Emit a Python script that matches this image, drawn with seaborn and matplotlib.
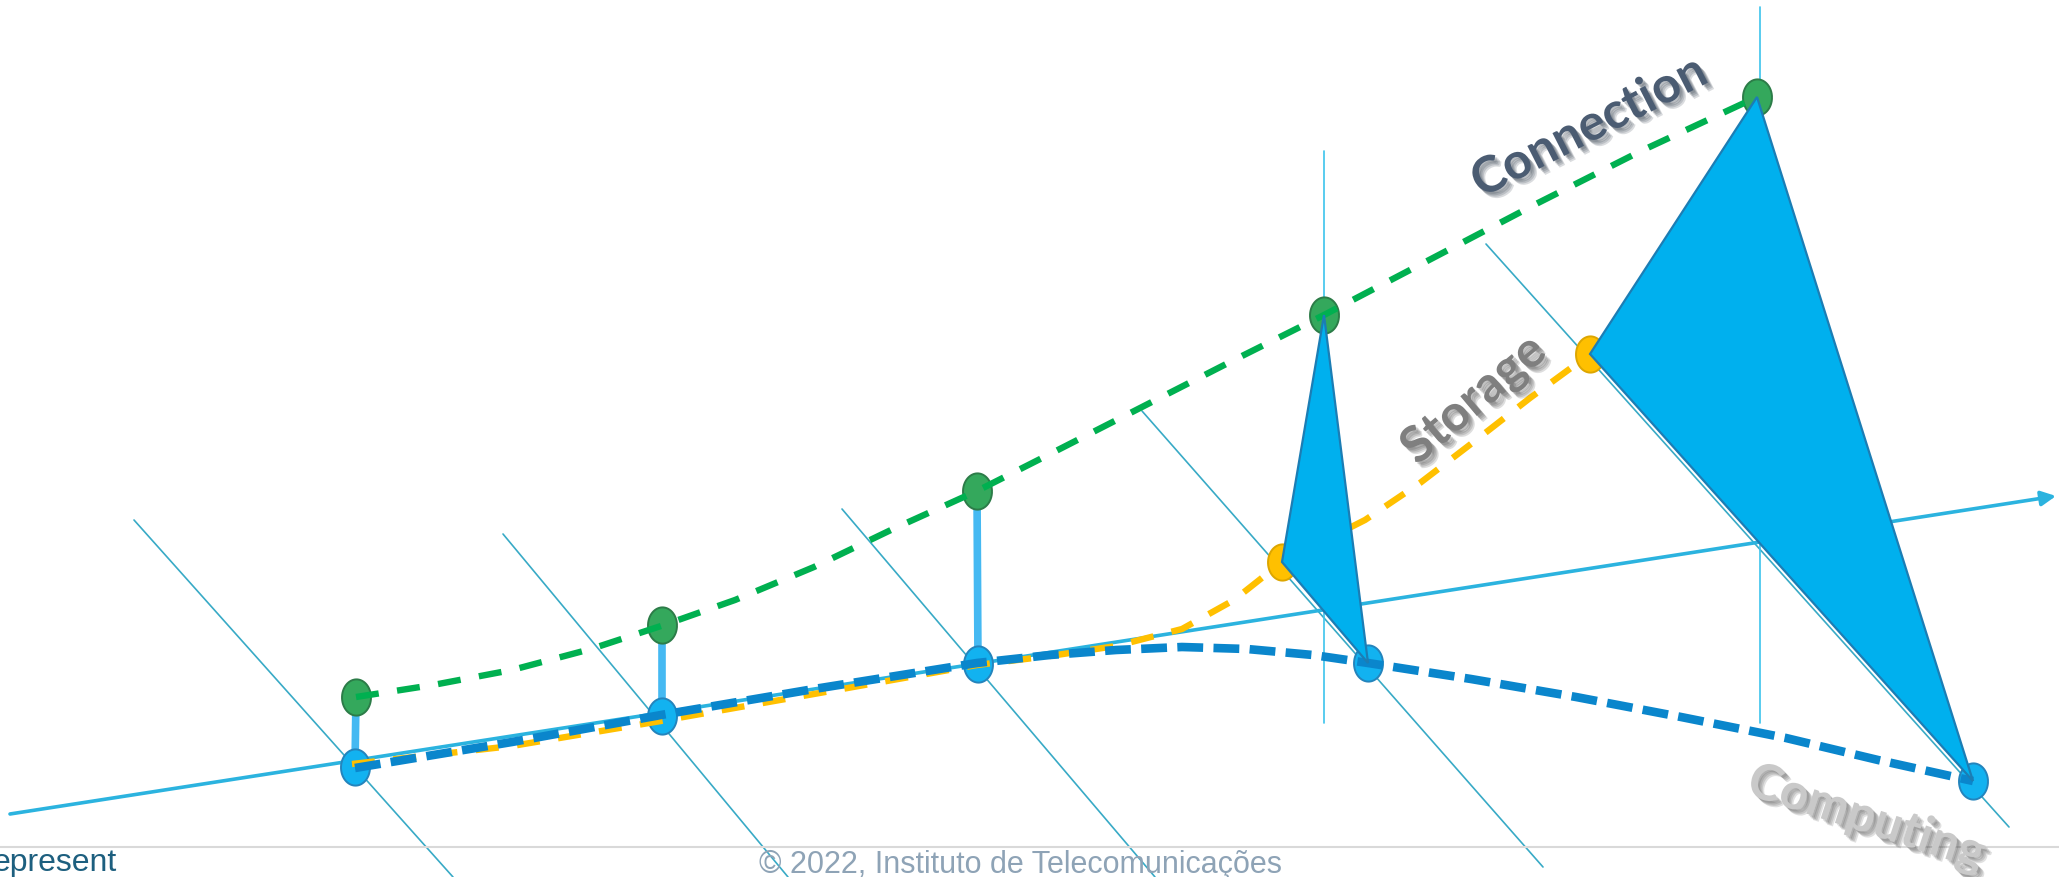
import numpy as np
import matplotlib
matplotlib.use("Agg")
import matplotlib.pyplot as plt
import matplotlib.patheffects as pe
from matplotlib.patches import Polygon
from matplotlib.path import Path
import seaborn as sns

# --- slide geometry (pixel coords, y down) ---
W, H = 2059, 877

# main axis
axis_x = [10, 2056]
axis_y = [814, 496]

# diagonal guide lines (start / end)
diag_x0 = [134, 503, 842, 1142, 1486]
diag_y0 = [520, 534, 509, 411, 244]
diag_x1 = [453, 788, 1155, 1543, 2009]
diag_y1 = [877, 877, 877, 867, 827]

# vertical guides
vert_x = [1324, 1760]
vert_top = [151, 7]
vert_bot = [723, 723]

# nodes
blue_x = [355, 662, 978, 1368, 1973]
blue_y = [767, 716, 664, 663, 781]
green_x = [356, 662, 977, 1324, 1757]
green_y = [697, 625, 491, 315, 97]
yellow_x = [1282, 1590]
yellow_y = [562, 354]

# dashed curves
conn_x = [356, 433, 512, 591, 664, 735, 814, 893, 977, 1050, 1142, 1234,
          1324, 1431, 1536, 1641, 1757]
conn_y = [697, 685, 670, 649, 625, 600, 567, 529, 491, 454, 407, 360,
          315, 259, 204, 151, 97]
stor_x = [352, 512, 661, 814, 977, 1050, 1116, 1182, 1234, 1282, 1365, 1420,
          1480, 1530, 1590]
stor_y = [764, 746, 721, 694, 665, 656, 646, 629, 600, 562, 520, 483,
          437, 398, 354]
comp_x = [355, 512, 661, 814, 977, 1050, 1116, 1182, 1247, 1313, 1368, 1471,
          1576, 1681, 1786, 1878, 1973]
comp_y = [768, 742, 715, 689, 663, 655, 650, 647, 649, 655, 663, 679,
          697, 717, 738, 760, 781]

labels = ["Connection", "Storage", "Computing"]
label_x = [1589, 1474, 1866]
label_y = [127, 400, 818]
label_rot = [27, 40, -18]

footer_left = "epresent"
footer_mid = "\u00a9 2022, Instituto de Telecomunica\u00e7\u00f5es"

# --- colours ---
C_AXIS = "#2BB3DF"
C_DIAG = "#38AAC6"
C_VERT = "#3CC4EC"
C_STEM = "#45B9F2"
C_GREEN = "#00B050"
C_YELLOW = "#FFC000"
C_BLUE = "#0A86CC"
C_TRI = "#00B0EE"

sns.set_style("white")
plt.rcParams['font.family'] = ['Lato', 'DejaVu Sans']

fig = plt.figure(figsize=(W / 100, H / 100), dpi=100)
ax = fig.add_axes([0, 0, 1, 1])

# guide lines
for x0, y0, x1, y1 in zip(diag_x0, diag_y0, diag_x1, diag_y1):
    ax.plot([x0, x1], [y0, y1], color=C_DIAG, lw=1.2, zorder=1)
for x, t, b in zip(vert_x, vert_top, vert_bot):
    ax.plot([x, x], [t, b], color=C_VERT, lw=1.2, zorder=1)

ax.annotate("", xy=(axis_x[1], axis_y[1]), xytext=(axis_x[0], axis_y[0]),
            arrowprops=dict(arrowstyle='-|>', color=C_AXIS, lw=2.6,
                            mutation_scale=22, shrinkA=0, shrinkB=0),
            zorder=2)

# stems between computing and connection nodes
for i in range(3):
    ax.plot([blue_x[i], green_x[i]], [blue_y[i], green_y[i]],
            color=C_STEM, lw=5.5, solid_capstyle='butt', zorder=3)

# elliptical node markers
t = np.linspace(0, 2 * np.pi, 60)
ell = Path(np.column_stack([0.8 * np.cos(t), np.sin(t)]))
sns.scatterplot(x=blue_x, y=blue_y, marker=ell, s=680, color="#12B2F0",
                edgecolor="#2484BC", linewidth=1.4, ax=ax, zorder=4)
sns.scatterplot(x=green_x, y=green_y, marker=ell, s=680, color="#34A85C",
                edgecolor="#2C7C48", linewidth=1.4, ax=ax, zorder=4)
sns.scatterplot(x=yellow_x, y=yellow_y, marker=ell, s=680, color="#FFC000",
                edgecolor="#DDA600", linewidth=1.4, ax=ax, zorder=4)

# dashed curves
sns.lineplot(x=conn_x, y=conn_y, sort=False, estimator=None, color=C_GREEN,
             linewidth=4.6, linestyle=(0, (3.6, 2.9)), ax=ax, zorder=5)
sns.lineplot(x=stor_x, y=stor_y, sort=False, estimator=None, color=C_YELLOW,
             linewidth=4.6, linestyle=(0, (3.6, 2.9)), ax=ax, zorder=5)
sns.lineplot(x=comp_x, y=comp_y, sort=False, estimator=None, color=C_BLUE,
             linewidth=6.2, linestyle=(0, (3.0, 1.2)), ax=ax, zorder=5)

# triangles joining the three resources
for gi, yi, bi in [(3, 0, 3), (4, 1, 4)]:
    tri = Polygon([(green_x[gi], green_y[gi]), (yellow_x[yi], yellow_y[yi]),
                   (blue_x[bi], blue_y[bi])], closed=True,
                  facecolor=C_TRI, edgecolor="#1C7DB4", lw=1.6, zorder=6)
    ax.add_patch(tri)

# labels with a soft shadow
label_col = ["#4B5C72", "#7F7F7F", "#C9C9C9"]
shadow_col = ["#1E2A38", "#333333", "#444444"]
for txt, x, y, r, c, sc in zip(labels, label_x, label_y, label_rot, label_col, shadow_col):
    soft = [pe.SimplePatchShadow(offset=(d, -d), shadow_rgbFace=sc, alpha=0.16)
            for d in (4.5, 3.5, 2.5, 1.5)]
    ax.text(x, y, txt, rotation=r, rotation_mode='anchor', ha='center', va='center',
            fontsize=36, fontweight='bold', color=c, zorder=8,
            path_effects=soft + [pe.Normal()])

# footer
ax.plot([0, W], [847, 847], color="#D9D9D9", lw=1.5, zorder=1)
ax.text(-7, 871, footer_left, fontsize=23, color="#1D5F7F", ha='left', va='baseline',
        family=['Liberation Sans', 'DejaVu Sans'], zorder=8)
ax.text(759, 873, footer_mid, fontsize=22, color="#8EA3B6", ha='left', va='baseline',
        family=['Liberation Sans', 'DejaVu Sans'], zorder=8)

ax.set_xlim(0, W)
ax.set_ylim(H, 0)
ax.axis('off')
fig.savefig("out.png", dpi=100)
